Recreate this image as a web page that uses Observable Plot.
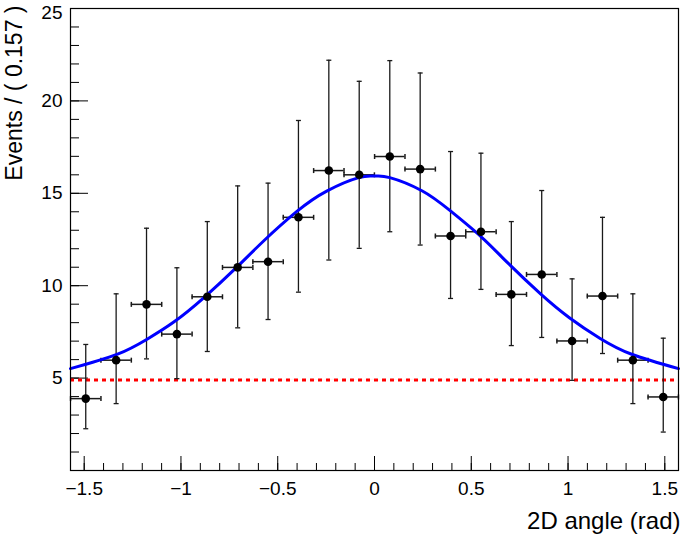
<!DOCTYPE html>
<html>
<head>
<meta charset="utf-8">
<script src="https://cdn.jsdelivr.net/npm/d3@7"></script>
<script src="https://cdn.jsdelivr.net/npm/@observablehq/plot@0.6"></script>
<style>
  html, body { margin: 0; padding: 0; background: #fff; }
  #chart { width: 685px; height: 538px; }
</style>
</head>
<body>
<div id="chart"></div>
<script>
// ---- data ----
const binCenters = [-1.492, -1.335, -1.178, -1.021, -0.864, -0.707, -0.550, -0.393, -0.236, -0.079,
                     0.079, 0.236, 0.393, 0.550, 0.707, 0.864, 1.021, 1.178, 1.335, 1.492];
const binHalfWidth = 0.0785;
const events  = [3.89, 5.97, 8.99, 7.38, 9.40, 10.99, 11.30, 13.70, 16.23, 16.00,
                 16.99, 16.31, 12.69, 12.92, 9.53, 10.61, 7.01, 9.44, 5.97, 3.98];
const errHigh = [6.82, 9.56, 13.11, 10.97, 13.47, 15.40, 15.55, 18.94, 22.20, 21.06,
                 22.18, 21.51, 17.26, 17.17, 13.47, 15.15, 10.37, 13.70, 9.56, 7.16];
const errLow  = [2.26, 3.62, 6.04, 4.97, 6.44, 7.72, 8.17, 9.65, 11.39, 12.02,
                 12.92, 12.20, 9.31, 9.80, 6.76, 7.20, 4.88, 6.33, 3.62, 2.08];

// fitted total model (blue)
const modelX = [-1.571, -1.331, -1.173, -1.039, -0.881, -0.706, -0.573, -0.401, -0.247, -0.081, 0,
                 0.079, 0.245, 0.386, 0.554, 0.686, 0.858, 1.007, 1.164, 1.329, 1.571];
const modelY = [5.51, 6.28, 7.12, 8.02, 9.36, 11.06, 12.42, 14.02, 15.12, 15.85, 15.93,
                15.85, 15.14, 14.10, 12.62, 11.26, 9.56, 8.27, 7.16, 6.29, 5.51];

// background component (red dotted)
const background = [4.9];

// axis ticks
const xDomain = [-1.5708, 1.5708];
const yDomain = [0, 25];
const xTicks = [-1.5, -1, -0.5, 0, 0.5, 1, 1.5];
const xTickLabels = ["\u22121.5", "\u22121", "\u22120.5", "0", "0.5", "1", "1.5"];
const xMinorTicks = [-1.5,-1.4,-1.3,-1.2,-1.1,-1.0,-0.9,-0.8,-0.7,-0.6,-0.5,-0.4,-0.3,-0.2,-0.1,0,
                     0.1,0.2,0.3,0.4,0.5,0.6,0.7,0.8,0.9,1.0,1.1,1.2,1.3,1.4,1.5];
const yTicks = [5, 10, 15, 20, 25];
const yTickLabels = ["5", "10", "15", "20", "25"];
const yMinorTicks = [1,2,3,4,5,6,7,8,9,10,11,12,13,14,15,16,17,18,19,20,21,22,23,24,25];

const yTitle = "Events / ( 0.157 )";
const xTitle = "2D angle (rad)";

// ---- tables ----
const points = binCenters.map((x, i) => ({
  x, y: events[i], lo: errLow[i], hi: errHigh[i],
  xl: x - binHalfWidth, xh: x + binHalfWidth
}));
const model = modelX.map((x, i) => ({x, y: modelY[i]}));
const yLabel = d => yTickLabels[yTicks.indexOf(d)];
const yTicksInner = yTicks.slice(0, -1);
const yTicksTop = yTicks.slice(-1);

// ---- layout ----
const W = 685, H = 538, ML = 70, MR = 7, MT = 8, MB = 68;
const FW = W - ML - MR, FH = H - MT - MB;

const hCap = {draw(ctx) { ctx.moveTo(-2.5, 0); ctx.lineTo(2.5, 0); }};
const vCap = {draw(ctx) { ctx.moveTo(0, -2.5); ctx.lineTo(0, 2.5); }};
const barColor = "#1a1a1a";

const chart = Plot.plot({
  width: W, height: H,
  marginLeft: ML, marginRight: MR, marginTop: MT, marginBottom: MB,
  style: {fontFamily: "'Liberation Sans', Arial, Helvetica, sans-serif", fontSize: "19px", background: "#fff", color: "#000"},
  x: {domain: xDomain},
  y: {domain: yDomain},
  marks: [
    // minor / major ticks pointing inward
    Plot.tickY(yMinorTicks, {y: d => d, stroke: "#000", strokeWidth: 1, insetRight: FW - 9}),
    Plot.tickY(yTicks, {y: d => d, stroke: "#000", strokeWidth: 1, insetRight: FW - 18}),
    Plot.tickX(xMinorTicks, {x: d => d, stroke: "#000", strokeWidth: 1, insetTop: FH - 7}),
    Plot.tickX(xTicks, {x: d => d, stroke: "#000", strokeWidth: 1, insetTop: FH - 14}),
    Plot.axisY(yTicksInner, {tickSize: 0, tickPadding: 8, tickFormat: yLabel, label: null}),
    Plot.axisY(yTicksTop, {tickSize: 0, tickPadding: 8, tickFormat: yLabel, label: null, dy: 4}),
    Plot.axisX(xTicks, {tickSize: 0, tickPadding: 11, tickFormat: (d) => xTickLabels[xTicks.indexOf(d)], label: null}),
    // background
    Plot.ruleY(background, {y: d => d, stroke: "#ff0000", strokeWidth: 3, strokeDasharray: "4,4"}),
    // error bars
    Plot.ruleX(points, {x: "x", y1: "lo", y2: "hi", stroke: barColor, strokeWidth: 1.3}),
    Plot.ruleY(points, {y: "y", x1: "xl", x2: "xh", stroke: barColor, strokeWidth: 1.5}),
    Plot.dot(points, {x: "x", y: "hi", symbol: hCap, stroke: barColor, fill: "none", strokeWidth: 1.3}),
    Plot.dot(points, {x: "x", y: "lo", symbol: hCap, stroke: barColor, fill: "none", strokeWidth: 1.3}),
    Plot.dot(points, {x: "xl", y: "y", symbol: vCap, stroke: barColor, fill: "none", strokeWidth: 1.5}),
    Plot.dot(points, {x: "xh", y: "y", symbol: vCap, stroke: barColor, fill: "none", strokeWidth: 1.5}),
    // model
    Plot.line(model, {x: "x", y: "y", stroke: "#0000ff", strokeWidth: 3, curve: "natural"}),
    // data points
    Plot.dot(points, {x: "x", y: "y", r: 4.3, fill: "#000", stroke: "none"}),
    // frame
    Plot.frame({stroke: "#000", strokeWidth: 1.2}),
    // titles
    Plot.text([yTitle], {text: d => d, frameAnchor: "top-left", rotate: -90, textAnchor: "end",
                         lineAnchor: "middle", dx: -56, dy: -3, fontSize: 23, fill: "#000"}),
    Plot.text([xTitle], {text: d => d, frameAnchor: "bottom-right", textAnchor: "end",
                         lineAnchor: "bottom", dx: 2, dy: 58, fontSize: 24, fill: "#000"})
  ]
});
document.getElementById("chart").appendChild(chart);
</script>
</body>
</html>
